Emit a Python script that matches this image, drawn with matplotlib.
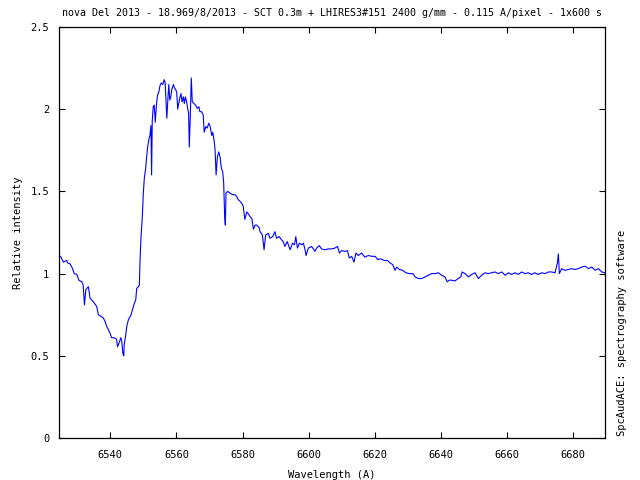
import numpy as np
import matplotlib.pyplot as plt

# spectrum (wavelength in A, relative intensity)
wavelength = [
    6524.5, 6525.1, 6525.8, 6526.8, 6527.1, 6527.8, 6528.5, 6529.1, 6529.9, 6530.5,
    6531.4, 6531.8, 6532.2, 6532.6, 6532.9, 6533.4, 6533.9, 6534.4, 6535.2, 6535.9,
    6536.4, 6537.2, 6537.9, 6538.4, 6538.9, 6539.4, 6539.9, 6540.4, 6541.2, 6541.9,
    6542.2, 6542.6, 6543.2, 6543.5, 6543.8, 6544.1, 6544.2, 6544.7, 6545.0, 6545.5,
    6546.3, 6546.7, 6547.3, 6547.7, 6548.0, 6548.5, 6548.8, 6549.0, 6549.3, 6549.7,
    6550.0, 6550.3, 6550.7, 6551.0, 6551.3, 6551.7, 6552.0, 6552.3, 6552.5, 6552.7,
    6553.0, 6553.3, 6553.6, 6554.0, 6554.3, 6554.7, 6555.0, 6555.4, 6555.9, 6556.3,
    6556.6, 6557.1, 6557.4, 6557.7, 6558.0, 6558.3, 6558.6, 6559.1, 6559.4, 6559.8,
    6560.1, 6560.4, 6560.7, 6561.1, 6561.4, 6561.7, 6562.1, 6562.4, 6562.7, 6563.1,
    6563.4, 6563.7, 6563.9, 6564.2, 6564.5, 6564.8, 6565.3, 6565.8, 6566.3, 6566.8,
    6567.1, 6567.6, 6568.1, 6568.4, 6568.9, 6569.3, 6569.8, 6570.2, 6570.7, 6571.0,
    6571.4, 6571.7, 6572.0, 6572.4, 6572.8, 6573.2, 6573.6, 6574.0, 6574.3, 6574.6,
    6574.8, 6575.0, 6575.5, 6576.2, 6577.0, 6577.7, 6578.2, 6578.7, 6579.2, 6579.7,
    6580.2, 6580.7, 6581.3, 6581.7, 6582.3, 6582.8, 6583.3, 6583.8, 6584.3, 6585.0,
    6585.3, 6586.0, 6586.5, 6587.0, 6587.8, 6588.3, 6589.1, 6589.8, 6590.3, 6591.1,
    6591.8, 6592.3, 6592.8, 6593.5, 6594.4, 6595.1, 6595.7, 6596.1, 6596.6, 6597.2,
    6597.9, 6598.4, 6598.9, 6599.2, 6599.9, 6600.9, 6601.9, 6602.4, 6603.2, 6603.9,
    6604.9, 6605.9, 6606.9, 6607.9, 6608.7, 6609.3, 6610.0, 6611.0, 6611.7, 6612.3,
    6613.0, 6613.7, 6614.3, 6615.0, 6616.0, 6617.0, 6618.0, 6619.1, 6620.1, 6620.9,
    6621.8, 6622.8, 6623.8, 6624.6, 6625.4, 6626.1, 6626.6, 6627.4, 6628.4, 6629.4,
    6630.4, 6631.5, 6632.2, 6633.2, 6634.2, 6635.2, 6636.2, 6637.2, 6638.2, 6639.2,
    6640.2, 6641.2, 6641.9, 6642.5, 6643.2, 6644.2, 6645.2, 6646.0, 6646.4, 6647.3,
    6648.3, 6649.3, 6650.3, 6651.3, 6652.3, 6653.3, 6654.3, 6655.3, 6656.3, 6657.3,
    6658.4, 6659.4, 6660.4, 6661.4, 6662.4, 6663.4, 6664.4, 6665.4, 6666.4, 6667.4,
    6668.4, 6669.4, 6670.5, 6671.5, 6672.5, 6673.5, 6674.5, 6675.2, 6675.5, 6675.8,
    6676.5, 6677.5, 6678.5, 6679.5, 6680.5, 6681.5, 6682.6, 6683.6, 6684.6, 6685.6,
    6686.6, 6687.6, 6688.6, 6689.6,
]
intensity = [
    1.113, 1.100, 1.070, 1.080, 1.065, 1.060, 1.035, 1.000, 0.995, 0.960,
    0.950, 0.930, 0.810, 0.900, 0.910, 0.920, 0.850, 0.840, 0.820, 0.800,
    0.750, 0.740, 0.730, 0.710, 0.680, 0.660, 0.640, 0.610, 0.610, 0.600,
    0.555, 0.575, 0.610, 0.585, 0.515, 0.500, 0.565, 0.630, 0.680, 0.720,
    0.750, 0.780, 0.820, 0.840, 0.910, 0.920, 0.930, 1.080, 1.220, 1.350,
    1.490, 1.580, 1.640, 1.710, 1.770, 1.820, 1.840, 1.900, 1.600, 1.930,
    2.015, 2.025, 1.920, 2.035, 2.085, 2.105, 2.140, 2.160, 2.150, 2.180,
    2.160, 1.945, 2.055, 2.150, 2.055, 2.075, 2.120, 2.150, 2.130, 2.120,
    2.100, 2.000, 2.035, 2.075, 2.095, 2.045, 2.075, 2.035, 2.075, 2.045,
    2.005, 1.975, 1.770, 1.955, 2.190, 2.045, 2.035, 2.025, 2.005, 2.015,
    1.985, 1.985, 1.965, 1.860, 1.895, 1.885, 1.915, 1.895, 1.840, 1.860,
    1.810, 1.750, 1.600, 1.710, 1.740, 1.710, 1.640, 1.620, 1.550, 1.345,
    1.295, 1.490, 1.500, 1.490, 1.480, 1.480, 1.470, 1.450, 1.440, 1.430,
    1.410, 1.330, 1.375, 1.365, 1.345, 1.335, 1.270, 1.295, 1.295, 1.280,
    1.255, 1.235, 1.145, 1.235, 1.245, 1.215, 1.225, 1.255, 1.215, 1.225,
    1.205, 1.195, 1.165, 1.195, 1.145, 1.185, 1.175, 1.225, 1.155, 1.185,
    1.175, 1.185, 1.145, 1.110, 1.155, 1.165, 1.135, 1.155, 1.170, 1.150,
    1.145, 1.150, 1.150, 1.155, 1.165, 1.125, 1.140, 1.135, 1.140, 1.095,
    1.105, 1.070, 1.125, 1.110, 1.125, 1.100, 1.110, 1.105, 1.105, 1.085,
    1.090, 1.080, 1.080, 1.065, 1.055, 1.020, 1.040, 1.025, 1.020, 1.005,
    1.000, 1.000, 0.980, 0.970, 0.970, 0.980, 0.990, 1.000, 1.000, 1.005,
    0.990, 0.980, 0.950, 0.960, 0.960, 0.955, 0.970, 0.980, 1.010, 1.000,
    0.980, 0.995, 1.005, 0.970, 0.990, 1.005, 1.000, 1.005, 1.010, 1.000,
    1.010, 0.990, 1.005, 0.995, 1.005, 0.995, 1.010, 1.000, 1.005, 0.995,
    1.005, 0.995, 1.005, 1.000, 1.010, 1.010, 1.005, 1.065, 1.120, 1.000,
    1.030, 1.020, 1.025, 1.030, 1.025, 1.030, 1.040, 1.045, 1.030, 1.040,
    1.020, 1.030, 1.010, 1.005,
]

x_ticks = [6540, 6560, 6580, 6600, 6620, 6640, 6660, 6680]
y_ticks = [0, 0.5, 1, 1.5, 2, 2.5]
y_tick_labels = ['0', '0.5', '1', '1.5', '2', '2.5']

plt.rcParams['font.family'] = 'DejaVu Sans Mono'
plt.rcParams['font.size'] = 7.5

fig = plt.figure(figsize=(6.4, 4.8), dpi=100)
ax = fig.add_axes([59/640, 42/480, 546/640, 411/480])
ax.plot(wavelength, intensity, color='#0000ff', lw=0.8)

ax.set_xlim(6524.5, 6689.6)
ax.set_ylim(0, 2.5)
ax.set_xticks(x_ticks)
ax.set_yticks(y_ticks)
ax.set_yticklabels(y_tick_labels)
ax.tick_params(direction='in', length=4, width=0.8, top=True, right=True)
ax.tick_params(axis='x', pad=9)
ax.tick_params(axis='y', pad=7)
for s in ax.spines.values():
    s.set_linewidth(0.9)

ax.set_xlabel('Wavelength (A)', labelpad=7)
ax.set_ylabel('Relative intensity', labelpad=5.5)
ax.set_title('nova Del 2013 - 18.969/8/2013 - SCT 0.3m + LHIRES3#151 2400 g/mm - 0.115 A/pixel - 1x600 s',
             fontsize=7.2, pad=8)
fig.text(622/640, 44/480, 'SpcAudACE: spectrography software', rotation=90,
         ha='center', va='bottom')

fig.savefig('out.png', dpi=100)
